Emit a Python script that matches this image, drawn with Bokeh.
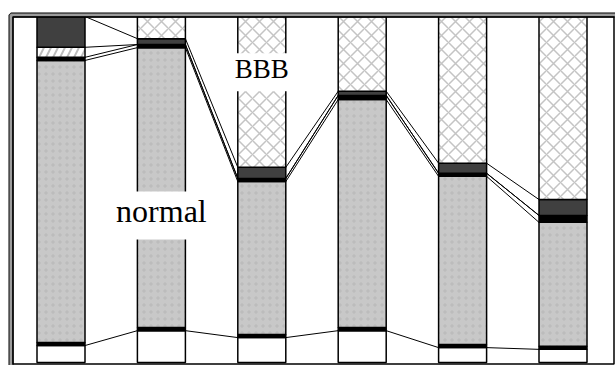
import numpy as np
from bokeh.plotting import figure
from bokeh.models import Label, BoxAnnotation, Range1d
from bokeh.embed import file_html
from bokeh.resources import INLINE

# ---- data (percent of each column, bottom to top) ----
categories = ["1", "2", "3", "4", "5", "6"]
base_white = [4.9, 9.2, 7.2, 9.2, 4.3, 3.8]
base_line = [0.9, 0.9, 0.9, 0.9, 0.9, 0.9]
normal = [81.5, 80.9, 44.2, 65.9, 48.6, 35.8]
black_band = [0.9, 0.9, 0.9, 1.2, 0.9, 2.0]
hatched = [2.9, 0.0, 0.0, 0.0, 0.0, 0.0]
dark = [8.9, 1.7, 3.2, 1.2, 2.9, 4.6]
bbb = [0.0, 6.4, 43.6, 21.6, 42.4, 52.9]

# ---- geometry (page has no margin: canvas == page) ----
W_PX, H_PX = 615, 365
SX = 100.4          # px per category
SY = 3.46           # px per percent
xs = -60.5 / SX
xe = xs + W_PX / SX
ye = 100 + 16 / SY
ys = ye - H_PX / SY


def dx(px):
    return xs + px / SX


def dy(py):
    return ye - py / SY


p = figure(width=W_PX, height=H_PX, x_range=Range1d(xs, xe), y_range=Range1d(ys, ye),
           x_axis_location=None, y_axis_location=None, toolbar_location=None,
           output_backend="svg", min_border=0, min_border_left=0, min_border_right=0,
           min_border_top=0, min_border_bottom=0, title=None)
p.outline_line_color = None
p.grid.visible = False
p.background_fill_color = "white"
p.border_fill_color = "white"

x = np.arange(len(categories), dtype=float)
BW = 48 / SX

series = [
    (base_white, dict(fill_color="white")),
    (base_line, dict(fill_color="black")),
    (normal, dict(fill_color="#c8c8c8", hatch_pattern="dot", hatch_color="#bcbcbc",
                  hatch_scale=7, hatch_weight=1)),
    (black_band, dict(fill_color="black")),
    (hatched, dict(fill_color="white", hatch_pattern="right_diagonal_line",
                   hatch_color="#bdbdbd", hatch_scale=14, hatch_weight=2)),
    (dark, dict(fill_color="#404040")),
    (bbb, dict(fill_color="white", hatch_pattern="diagonal_cross", hatch_color="#c4c4c4",
               hatch_scale=14, hatch_weight=1.5)),
]

bottom = np.zeros(len(categories))
tops = []
for vals, style in series:
    v = np.array(vals, dtype=float)
    top = bottom + v
    mask = v > 0
    if mask.any():
        p.vbar(x=x[mask], width=BW, bottom=bottom[mask], top=top[mask],
               line_color="black", line_width=1.5, **style)
    tops.append(top)
    bottom = top

# series lines between adjacent columns
for idx in [0, 2, 3, 4, 5]:
    t = tops[idx]
    p.segment(x0=x[:-1] + BW / 2, y0=t[:-1], x1=x[1:] - BW / 2, y1=t[1:],
              line_color="black", line_width=1)

# double frame: black band with grey core (top-left), inner line right/bottom
p.add_layout(BoxAnnotation(left=dx(10.5), top=dy(14.5), right=dx(640), bottom=dy(390),
                           fill_color=None, fill_alpha=0, line_color="black",
                           line_alpha=1, line_width=5))
p.add_layout(BoxAnnotation(left=dx(10.5), top=dy(14.5), right=dx(640), bottom=dy(390),
                           fill_color=None, fill_alpha=0, line_color="#9c9c9c",
                           line_alpha=1, line_width=3))
p.add_layout(BoxAnnotation(left=dx(12.5), top=dy(16.5), right=dx(613.5), bottom=dy(363.5),
                           fill_color=None, fill_alpha=0, line_color="black",
                           line_alpha=1, line_width=1.5))

# labels
p.add_layout(Label(x=1, y=42.5, text="normal", text_font="Liberation Serif",
                   text_font_size="32px", text_align="center", text_baseline="alphabetic",
                   text_color="black", background_fill_color="white",
                   padding=dict(left=1, right=1, top=2, bottom=10)))
p.add_layout(Label(x=2, y=83.9, text="BBB", text_font="Liberation Serif",
                   text_font_size="27px", text_align="center", text_baseline="alphabetic",
                   text_color="black", background_fill_color="white",
                   padding=dict(left=11, right=11, top=1, bottom=7)))

open("out.html", "w").write(file_html(p, INLINE))
